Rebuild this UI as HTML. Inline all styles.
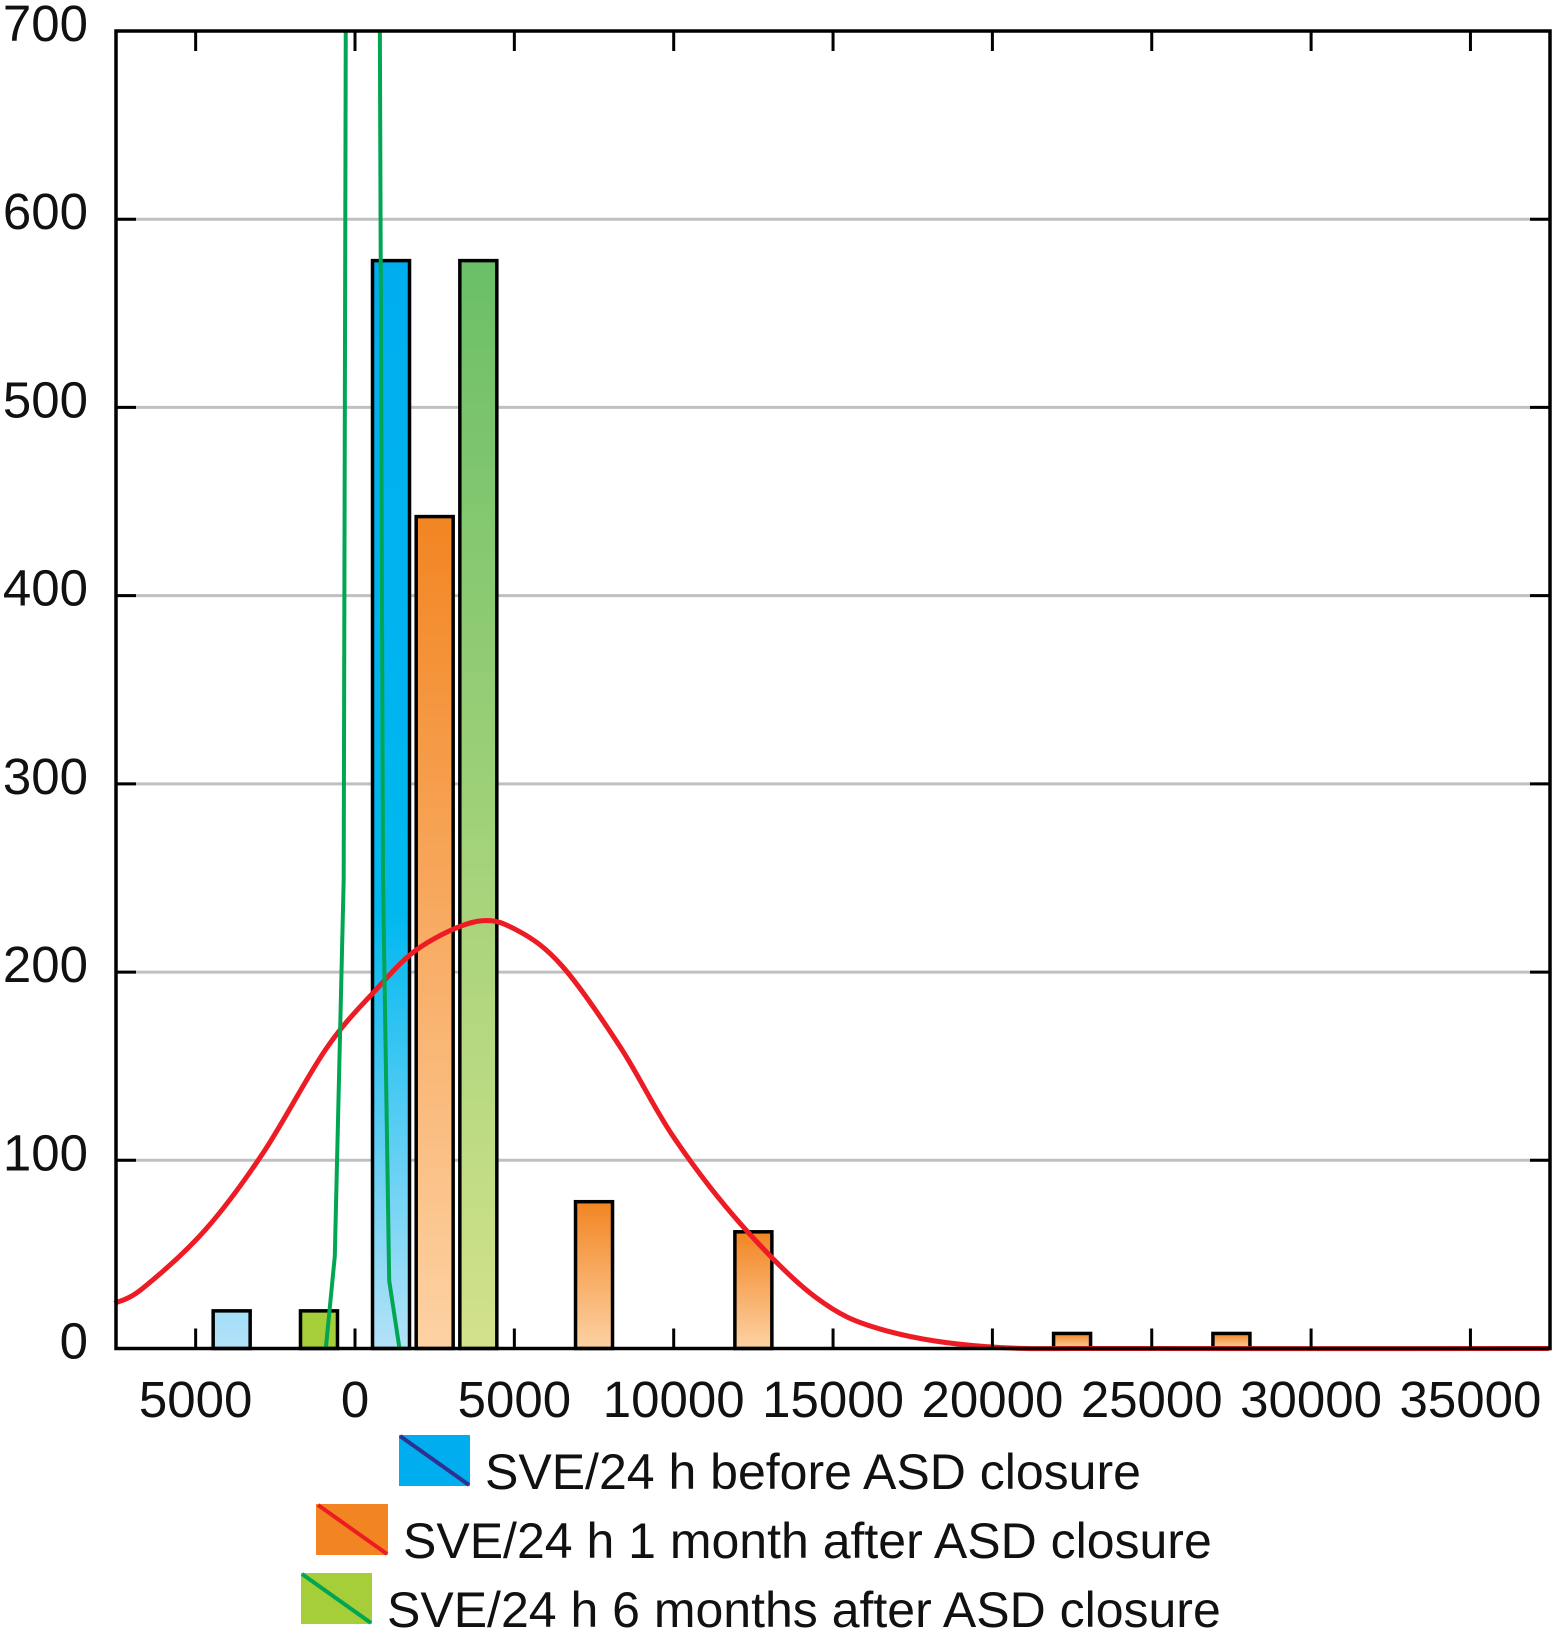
<!DOCTYPE html>
<html><head><meta charset="utf-8"><style>
html,body{margin:0;padding:0;background:#fff;}
svg text{font-family:"Liberation Sans",sans-serif;fill:#111;}
</style></head><body>
<svg id="chart" width="1553" height="1628" viewBox="0 0 1553 1628" xmlns="http://www.w3.org/2000/svg">
<defs>
<linearGradient id="gBlue" gradientUnits="userSpaceOnUse" x1="0" y1="260" x2="0" y2="1348"><stop offset="0" stop-color="#00aeef"/><stop offset="0.6" stop-color="#00b8ef"/><stop offset="1" stop-color="#b3e2f8"/></linearGradient>
<linearGradient id="gOrange" x1="0" y1="0" x2="0" y2="1"><stop offset="0" stop-color="#f28522"/><stop offset="1" stop-color="#fdd2a4"/></linearGradient>
<linearGradient id="gGreen" x1="0" y1="0" x2="0" y2="1"><stop offset="0" stop-color="#6bbf67"/><stop offset="1" stop-color="#d2e28a"/></linearGradient>
</defs>
<g id="grid"></g><g id="bars"></g><g id="curves"></g><g id="frame"></g><g id="labels"></g>
<g>
 <g>
  <rect x="399" y="1435" width="71" height="51" fill="#00aeef"/>
  <line x1="400" y1="1436" x2="469" y2="1485" stroke="#2e3192" stroke-width="4"/>
  <text x="485" y="1489" font-size="50">SVE/24 h before ASD closure</text>
 </g>
 <g>
  <rect x="316" y="1504" width="72" height="51" fill="#f28522"/>
  <line x1="318" y1="1505" x2="387" y2="1554" stroke="#ed1c24" stroke-width="4"/>
  <text x="403" y="1558" font-size="50">SVE/24 h 1 month after ASD closure</text>
 </g>
 <g>
  <rect x="301" y="1573" width="71" height="51" fill="#a6ce39"/>
  <line x1="302" y1="1574" x2="371" y2="1623" stroke="#00a651" stroke-width="4"/>
  <text x="387" y="1627" font-size="50">SVE/24 h 6 months after ASD closure</text>
 </g>
</g>
</svg>
<script>
const binCenters = [-2500, 2500, 7500, 12500, 17500, 22500, 27500];
const beforeCounts = [20, 578, 0, 0, 0, 0, 0];
const month1Counts = [0, 442, 78, 62, 0, 8, 8];
const month6Counts = [20, 578, 0, 0, 0, 0, 0];
const yTicks = [0, 100, 200, 300, 400, 500, 600, 700];
const xTicks = [-5000, 0, 5000, 10000, 15000, 20000, 25000, 30000, 35000];
const xTickLabels = ["5000", "0", "5000", "10000", "15000", "20000", "25000", "30000", "35000"];
const redCurveX = [-7540, -6660, -4700, -2880, -916, 624, 2030, 3850, 5110, 6510, 8330, 10010, 12110, 14470, 16550, 19800, 24700, 37475];
const redCurveY = [24, 32, 63, 104, 159, 190, 213, 227, 222, 203, 160, 112, 66, 27, 10, 1, 0, 0];
const greenCurve1X = [-916, -634, -355, -290];
const greenCurve1Y = [0, 49, 249, 700];
const greenCurve2X = [1396, 1073, 879, 780];
const greenCurve2Y = [0, 36, 249, 700];

const L=116, R=1550, T=31, B=1348.5;
const X0=355, PX5000=159.35;
const xs = v => X0 + v/5000*PX5000;
const ys = v => B - v/700*(B-T);
const NS="http://www.w3.org/2000/svg";
function mk(tag, parent, attrs){const e=document.createElementNS(NS,tag);for(const k in attrs)e.setAttribute(k,attrs[k]);parent.appendChild(e);return e;}
const grid=document.getElementById('grid'), bars=document.getElementById('bars'), curves=document.getElementById('curves'), frame=document.getElementById('frame'), labels=document.getElementById('labels');

yTicks.forEach(t=>{
  const y=ys(t);
  if(t>0&&t<700){const g=mk('line',grid,{x1:L,x2:R,y1:y,y2:y,stroke:'#c0c0c0','stroke-width':3});
  
  
  mk('line',frame,{x1:L,x2:L+20,y1:y,y2:y,stroke:'#000','stroke-width':3});
  mk('line',frame,{x1:R-20,x2:R,y1:y,y2:y,stroke:'#000','stroke-width':3});}
  const tx=mk('text',labels,{x:88,y:y+10,'font-size':51,'text-anchor':'end'});
  tx.textContent=t;
  
  
});
xTicks.forEach((t,i)=>{
  const x=xs(t);
  mk('line',frame,{x1:x,x2:x,y1:B,y2:B-20,stroke:'#000','stroke-width':3});
  mk('line',frame,{x1:x,x2:x,y1:T,y2:T+20,stroke:'#000','stroke-width':3});
  const tx=mk('text',labels,{x:x,y:1417,'font-size':51,'text-anchor':'middle'});
  tx.textContent=xTickLabels[i];
  
  
});

const slot=1370, bw=37;
function drawSeries(vals, off, fill, name, smallFill){
  vals.forEach((v,i)=>{
    if(v<=0) return;
    const cx=xs(binCenters[i]+off);
    const f=(smallFill && v<50)?smallFill:fill;
    const r=mk('rect',bars,{x:cx-bw/2,y:ys(v),width:bw,height:B-ys(v),fill:f,stroke:'#000','stroke-width':3.5});
    
    
  });
}
drawSeries(beforeCounts,-slot,'url(#gBlue)','bar-before');
drawSeries(month1Counts,0,'url(#gOrange)','bar-1-month');
drawSeries(month6Counts,slot,'url(#gGreen)','bar-6-months','#a6ce39');

function smooth(xa,ya){
  const p=xa.map((x,i)=>[xs(x),ys(ya[i])]);
  let d='M'+p[0][0]+','+p[0][1];
  for(let i=0;i<p.length-1;i++){
    const p0=p[Math.max(i-1,0)],p1=p[i],p2=p[i+1],p3=p[Math.min(i+2,p.length-1)];
    const c1=[p1[0]+(p2[0]-p0[0])/6,p1[1]+(p2[1]-p0[1])/6];
    const c2=[p2[0]-(p3[0]-p1[0])/6,p2[1]-(p3[1]-p1[1])/6];
    d+=' C'+c1+' '+c2+' '+p2;
  }
  return d;
}
function poly(xa,ya){return xa.map((x,i)=>(i?'L':'M')+xs(x)+','+ys(ya[i])).join(' ');}
const rc=mk('path',curves,{d:smooth(redCurveX,redCurveY),fill:'none',stroke:'#ed1c24','stroke-width':5,'stroke-linejoin':'round'});


const g1=mk('path',curves,{d:poly(greenCurve1X,greenCurve1Y),fill:'none',stroke:'#00a651','stroke-width':4,'stroke-linejoin':'round'});


const g2=mk('path',curves,{d:poly(greenCurve2X,greenCurve2Y),fill:'none',stroke:'#00a651','stroke-width':4,'stroke-linejoin':'round'});



const fr=mk('rect',frame,{x:L,y:T,width:R-L,height:B-T,fill:'none',stroke:'#000','stroke-width':3.5});


</script>
</body></html>
